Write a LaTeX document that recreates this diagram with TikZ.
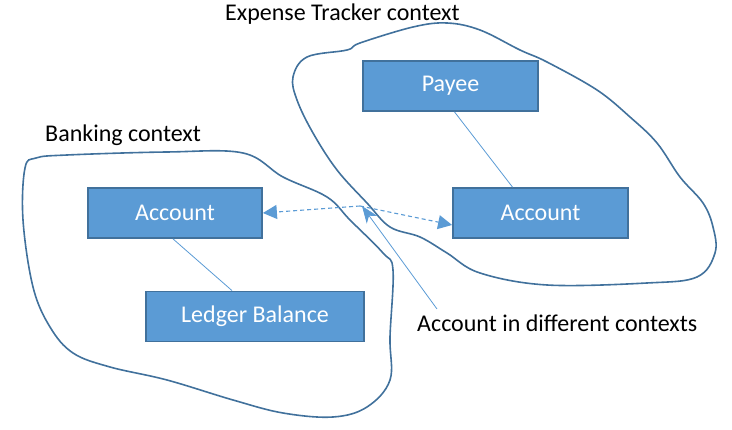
\documentclass[tikz,border=0pt]{standalone}
\usepackage{fontspec}
\setmainfont{Carlito}
\usetikzlibrary{arrows.meta}
\definecolor{boxfill}{HTML}{5B9BD5}
\definecolor{boxline}{HTML}{41719C}
\begin{document}
\begin{tikzpicture}[x=1pt,y=-1pt,
  ent/.style={draw=boxline,line width=1.8pt,fill=boxfill,text=white,font=\fontsize{24}{28}\selectfont,minimum width=174pt,minimum height=50pt,inner sep=0pt},
  lbl/.style={font=\fontsize{24}{28}\selectfont,inner sep=0pt},
  blob/.style={draw=boxline,line width=1.6pt},
  link/.style={draw=boxfill,line width=0.8pt},
  dasharrow/.style={draw=boxfill,line width=1.1pt,dashed,dash pattern=on 4pt off 3pt,-{Triangle[length=14pt,width=14pt]}}
]
\useasboundingbox (0,0) rectangle (732,430);
% blobs
\draw[blob] plot[smooth cycle,tension=0.6] coordinates {(36,158) (25,168) (23,220) (33,287) (50,327) (73,353) (110,367) (167,380) (233,400) (283,413) (333,417) (367,407) (390,380) (390,337) (393,270) (383,253) (350,220) (327,197) (283,177) (243,153) (167,152) (67,155)};
\draw[blob] plot[smooth cycle,tension=0.6] coordinates {(293,77) (307,57) (347,50) (360,43) (413,27) (447,23) (480,30) (520,50) (547,62) (597,90) (630,117) (657,143) (680,177) (703,203) (713,227) (715,253) (697,277) (647,283) (547,285) (480,273) (447,253) (420,237) (390,227) (367,203) (337,170) (313,133) (297,100)};
% entities
\node[ent] (accL) at (175,213) {\raisebox{-1pt}{Account}};
\node[ent,minimum width=218pt] (ledger) at (255,316.5) {\raisebox{-1pt}{Ledger Balance}};
\node[ent,minimum width=175pt] (payee) at (450.5,86) {\raisebox{-1pt}{Payee}};
\node[ent,minimum width=175pt] (accR) at (540.5,213) {\raisebox{-1pt}{Account}};
% labels
\node[lbl,anchor=west] (tExp) at (225,14) {Expense Tracker context};
\node[lbl,anchor=west] (tBank) at (45,135) {Banking context};
\node[lbl,anchor=west] (tDiff) at (417,323) {Account in different contexts};
% links
\draw[link] ([xshift=-2pt]accL.south) -- ([xshift=-23pt]ledger.north);
\draw[link] ([xshift=4pt]payee.south) -- ([xshift=-28pt]accR.north);
% dashed arrows
\coordinate (mid) at (360,206);
\coordinate (tail) at (437,309);
\coordinate (tip) at (362,206);
\draw[dasharrow] (mid) -- (accL.east);
\draw[dasharrow] (mid) -- ([yshift=-12pt]accR.west);
% solid arrow
\draw[link,-{Stealth[length=17pt,width=13pt,inset=5pt]}] (tail) -- (tip);
\end{tikzpicture}
\end{document}
